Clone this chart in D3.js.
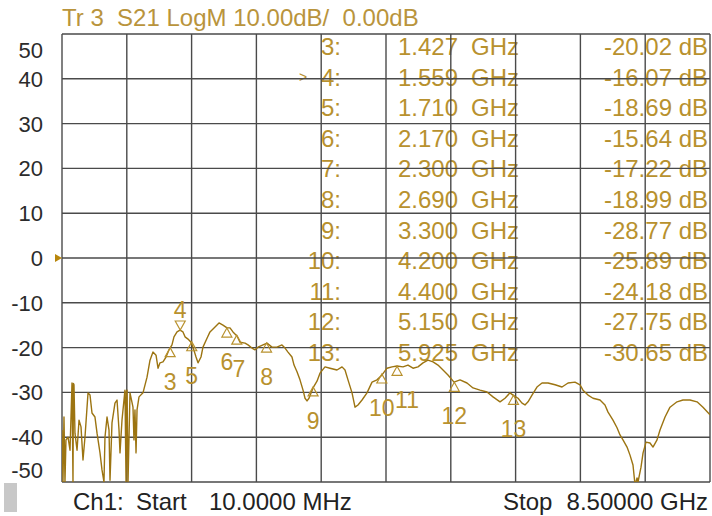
<!DOCTYPE html>
<html><head><meta charset="utf-8">
<script src="https://cdn.jsdelivr.net/npm/d3@7"></script>
<style>body{margin:0;background:#fff}svg{display:block}text{font-family:"Liberation Sans",Arial,sans-serif}</style>
</head><body>
<svg id="c" width="712" height="516"></svg>
<script>
const titleText = "Tr 3  S21 LogM 10.00dB/  0.00dB";
const yTicks = [50,40,30,20,10,0,-10,-20,-30,-40,-50];
const startLabel = ["Ch1:", "Start", "10.0000 MHz"];
const stopLabel = ["Stop", "8.50000 GHz"];
const markerIds  = [3,4,5,6,7,8,9,10,11,12,13];
const markerFreq = [1.427,1.559,1.710,2.170,2.300,2.690,3.300,4.200,4.400,5.150,5.925];
const markerDb   = [-20.02,-16.07,-18.69,-15.64,-17.22,-18.99,-28.77,-25.89,-24.18,-27.75,-30.65];
const activeMarker = 4;
const traceFreq = [0.010,0.023,0.036,0.049,0.062,0.089,0.115,0.141,0.154,0.160,0.167,0.180,0.207,0.233,0.259,0.285,0.311,0.351,0.377,0.403,0.442,0.469,0.508,0.534,0.560,0.573,0.600,0.626,0.639,0.665,0.704,0.731,0.757,0.770,0.796,0.835,0.849,0.855,0.862,0.875,0.901,0.940,0.953,0.966,0.980,0.993,1.019,1.071,1.124,1.163,1.202,1.242,1.268,1.294,1.333,1.373,1.412,1.451,1.477,1.517,1.556,1.595,1.622,1.661,1.700,1.726,1.766,1.792,1.831,1.857,1.910,1.949,2.015,2.067,2.119,2.172,2.211,2.250,2.303,2.342,2.408,2.447,2.499,2.539,2.578,2.644,2.696,2.761,2.827,2.892,2.932,2.971,3.023,3.050,3.089,3.128,3.168,3.194,3.220,3.246,3.299,3.351,3.390,3.456,3.521,3.613,3.679,3.718,3.757,3.810,3.849,3.888,3.941,4.006,4.072,4.137,4.203,4.268,4.334,4.399,4.478,4.543,4.609,4.674,4.740,4.805,4.871,4.936,5.002,5.067,5.146,5.225,5.316,5.395,5.487,5.578,5.657,5.749,5.814,5.880,5.919,5.985,6.037,6.076,6.116,6.168,6.233,6.299,6.378,6.470,6.561,6.640,6.731,6.797,6.836,6.902,6.967,7.059,7.124,7.164,7.229,7.282,7.321,7.360,7.413,7.452,7.491,7.518,7.544,7.557,7.596,7.623,7.662,7.714,7.753,7.806,7.845,7.911,7.976,8.068,8.146,8.238,8.330,8.408,8.500];
const traceDb = [-38.4,-50.0,-35.5,-50.0,-40.6,-40.0,-42.9,-27.9,-50.0,-28.0,-28.3,-39.1,-42.9,-36.2,-37.7,-45.1,-40.0,-30.1,-30.6,-34.6,-35.5,-39.1,-43.5,-47.3,-50.0,-40.0,-35.5,-38.4,-49.6,-36.8,-32.4,-31.7,-38.4,-43.5,-36.2,-29.5,-50.0,-29.8,-29.5,-50.0,-30.1,-33.3,-40.6,-33.9,-43.5,-33.9,-31.0,-30.1,-26.6,-22.8,-21.0,-21.7,-24.6,-23.4,-23.2,-22.1,-20.5,-19.4,-17.6,-16.5,-16.1,-16.5,-17.6,-18.1,-18.8,-19.9,-22.1,-23.4,-22.1,-19.9,-17.9,-16.5,-15.4,-14.5,-15.0,-15.6,-15.6,-16.5,-17.4,-18.8,-19.0,-19.4,-20.1,-20.5,-19.9,-19.4,-19.0,-19.9,-19.9,-19.4,-20.1,-21.0,-22.1,-23.9,-25.4,-27.2,-29.5,-31.3,-31.9,-31.3,-29.0,-27.5,-25.7,-24.3,-24.6,-25.0,-24.3,-25.0,-27.2,-30.1,-33.3,-32.8,-31.7,-30.1,-27.7,-27.2,-26.1,-24.6,-24.3,-24.1,-24.3,-23.9,-24.6,-24.3,-23.4,-22.8,-23.2,-23.9,-25.0,-26.1,-27.7,-27.2,-27.9,-29.0,-29.5,-29.9,-31.0,-32.1,-31.3,-30.1,-30.6,-31.3,-32.4,-32.8,-32.1,-30.6,-28.8,-27.9,-27.9,-28.3,-28.8,-27.9,-27.7,-28.3,-29.5,-30.6,-31.3,-31.7,-32.8,-34.4,-36.2,-37.9,-39.5,-40.6,-42.2,-44.0,-46.2,-50.7,-49.1,-50.0,-46.7,-43.5,-41.1,-41.3,-42.2,-40.6,-38.4,-35.5,-33.3,-32.1,-31.7,-31.7,-32.1,-33.3,-35.0];

const svg = d3.select("#c");
const L = 62, R = 710, T = 34, B = 482;
const x = d3.scaleLinear().domain([0.01, 8.5]).range([L, R]);
const y = d3.scaleLinear().domain([-50, 50]).range([B, T]);
const gold = "#b8912e", traceCol = "#9c7411", gridCol = "#4a4a4a";

// title
svg.append("text").attr("x", 62).attr("y", 26).attr("font-size", 24).attr("fill", "#b9943c")
  .style("white-space", "pre").text(titleText);

// table text (drawn under grid)
const tbl = svg.append("g").attr("fill", gold).attr("font-size", 24);
markerIds.forEach((id, i) => {
  const by = 55 + i * 30.6;
  tbl.append("text").attr("x", 341).attr("y", by).attr("text-anchor", "end").text(id + ":");
  tbl.append("text").attr("x", 398).attr("y", by).text(markerFreq[i].toFixed(3));
  tbl.append("text").attr("x", 471).attr("y", by).text("GHz");
  tbl.append("text").attr("x", 708).attr("y", by).attr("text-anchor", "end").text(markerDb[i].toFixed(2) + " dB");
  if (id === activeMarker) tbl.append("text").attr("x", 299).attr("y", by - 4).attr("font-size", 14).text(">");
});

// grid
const g = svg.append("g").attr("stroke", gridCol).attr("stroke-width", 1.4);
d3.range(11).forEach(i => {
  const fx = x.invert(L + (R - L) * i / 10);
  g.append("line").attr("x1", x(fx)).attr("x2", x(fx)).attr("y1", T).attr("y2", B);
});
yTicks.forEach(v => g.append("line").attr("x1", L).attr("x2", R).attr("y1", y(v)).attr("y2", y(v)));

// y labels
svg.append("g").attr("font-size", 22).attr("fill", "#2b2b2b").selectAll("text").data(yTicks).join("text")
  .attr("x", 43).attr("text-anchor", "end")
  .attr("y", d => y(d) + 8 + (d === 50 ? 16 : d === -50 ? -12 : 0))
  .text(d => d);

// reference marker
svg.append("path").attr("d", `M${L-7},${y(0)-4}L${L},${y(0)}L${L-7},${y(0)+4}Z`).attr("fill", "#b8860b");

// trace
svg.append("clipPath").attr("id", "cp").append("rect").attr("x", L).attr("y", T).attr("width", R - L).attr("height", B - T);
const line = d3.line().x(d => x(d[0])).y(d => y(d[1]));
svg.append("path").datum(traceFreq.map((f, i) => [f, traceDb[i]])).attr("clip-path", "url(#cp)")
  .attr("d", line).attr("fill", "none").attr("stroke", traceCol).attr("stroke-width", 1.4).attr("stroke-linejoin", "round");

// markers
const mk = svg.append("g");
markerIds.forEach((id, i) => {
  const px = x(markerFreq[i]), py = y(markerDb[i]);
  if (id === activeMarker) {
    mk.append("path").attr("d", `M${px},${py}L${px-5},${py-9}L${px+5},${py-9}Z`).attr("fill", "none").attr("stroke", gold).attr("stroke-width", 1.2);
    mk.append("text").attr("x", px).attr("y", py - 12).attr("text-anchor", "middle").attr("font-size", 23).attr("fill", gold).text(id);
  } else {
    mk.append("path").attr("d", `M${px},${py}L${px-5},${py+9}L${px+5},${py+9}Z`).attr("fill", "none").attr("stroke", gold).attr("stroke-width", 1.2);
    mk.append("text").attr("x", px + (id === 11 ? 10 : id === 7 ? 2 : 0)).attr("y", py + 42).attr("text-anchor", "middle").attr("font-size", 23).attr("fill", gold).text(id);
  }
});

// bottom
svg.append("rect").attr("x", 4).attr("y", 483).attr("width", 13).attr("height", 29).attr("fill", "#c8c8c8");
const bt = svg.append("g").attr("font-size", 24).attr("fill", "#222");
bt.append("text").attr("x", 73).attr("y", 510).text(startLabel[0]);
bt.append("text").attr("x", 136).attr("y", 510).text(startLabel[1]);
bt.append("text").attr("x", 209).attr("y", 510).text(startLabel[2]);
bt.append("text").attr("x", 503).attr("y", 510).text(stopLabel[0]);
bt.append("text").attr("x", 708).attr("y", 510).attr("text-anchor", "end").text(stopLabel[1]);
</script>
</body></html>
